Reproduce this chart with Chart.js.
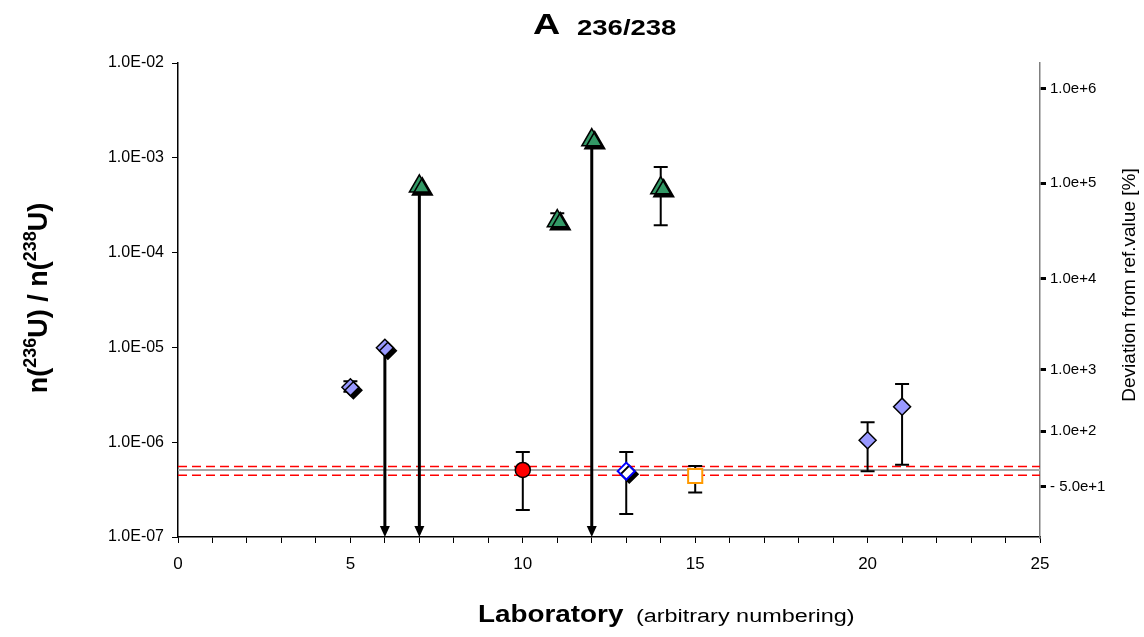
<!DOCTYPE html>
<html>
<head>
<meta charset="utf-8">
<script src="https://cdn.jsdelivr.net/npm/chart.js@4.4.0/dist/chart.umd.min.js"></script>
<style>
  html, body { margin: 0; padding: 0; background: #fff; }
  #wrap { width: 1144px; height: 637px; }
</style>
</head>
<body>
<div id="wrap"><canvas id="labChart" width="1144" height="637"></canvas></div>
<script>
// lab results, n(236U)/n(238U)
var labs = [5, 6, 7, 10, 11, 12, 13, 14, 15, 20, 21];
var ratios = [3.8e-6, 9.9e-6, 5.0e-4, 5.1e-7, 2.15e-4, 1.54e-3, 4.95e-7, 4.8e-4, 4.4e-7, 1.05e-6, 2.37e-6];
var errHigh = [4.4e-6, null, null, 7.9e-7, 2.6e-4, null, 7.9e-7, 8.0e-4, 5.6e-7, 1.62e-6, 4.1e-6];
var errLow = [3.4e-6, null, null, 1.93e-7, 2.0e-4, null, 1.75e-7, 1.94e-4, 2.95e-7, 4.95e-7, 5.8e-7];
var upperLimit = [false, true, true, false, false, true, false, false, false, false, false];
var markerGroup = ["lav", "lav", "tri", "red", "tri", "tri", "open", "tri", "sq", "lav2", "lav2"];

// reference value and its uncertainty band
var refValue = 5.09e-7;
var refUpper = 5.54e-7;
var refLower = 4.48e-7;

var leftTicks = [1e-7, 1e-6, 1e-5, 1e-4, 1e-3, 1e-2];
var rightTickValues = [5.32e-3, 5.42e-4, 5.27e-5, 5.78e-6, 1.31e-6, 3.37e-7];
var rightTickLabels = ["1.0e+6", "1.0e+5", "1.0e+4", "1.0e+3", "1.0e+2", "- 5.0e+1"];

var FONT = "'Liberation Sans', Arial, sans-serif";

var groupStyles = {
    lav:  { pointStyle: 'rectRot',  radius: 8.5,  bg: '#9999ff', border: '#000000', bw: 1.5, shadow: true },
    tri:  { pointStyle: 'triangle', radius: 11.5, bg: '#339966', border: '#000000', bw: 1.5, shadow: true },
    red:  { pointStyle: 'circle',   radius: 7.5,  bg: '#ff0000', border: '#000000', bw: 1.5, shadow: false },
    open: { pointStyle: 'rectRot',  radius: 8.5,  bg: '#ffffff', border: '#0000ff', bw: 2,   shadow: true },
    sq:   { pointStyle: 'rect',     radius: 10,   bg: '#ffffff', border: '#ff9900', bw: 2,   shadow: false },
    lav2: { pointStyle: 'rectRot',  radius: 8.5,  bg: '#9999ff', border: '#000000', bw: 1.5, shadow: false }
};

var datasets = Object.keys(groupStyles).map(function (key) {
    var st = groupStyles[key];
    var pts = [];
    labs.forEach(function (lab, i) {
        if (markerGroup[i] === key) pts.push({ x: lab, y: ratios[i] });
    });
    return {
        label: key,
        data: pts,
        showLine: false,
        pointStyle: st.pointStyle,
        pointRadius: st.radius,
        pointBackgroundColor: st.bg,
        pointBorderColor: st.border,
        pointBorderWidth: st.bw,
        shadow: st.shadow,
        clip: false
    };
});

function fmtLeft(v) {
    var e = Math.round(Math.log10(v));
    return '1.0E' + (e < 0 ? '-' : '+') + String(Math.abs(e)).padStart(2, '0');
}

// Excel-like drop shadow behind some markers
var shadowPlugin = {
    id: 'shadow',
    beforeDatasetDraw: function (chart, args) {
        var ctx = chart.ctx;
        ctx.save();
        if (args.meta._dataset.shadow) {
            ctx.shadowColor = '#000000';
            ctx.shadowOffsetX = 3;
            ctx.shadowOffsetY = 3;
            ctx.shadowBlur = 0;
        }
    },
    afterDatasetDraw: function (chart) {
        chart.ctx.restore();
    }
};

// reference lines, error bars and "below" arrows
var barsPlugin = {
    id: 'bars',
    beforeDatasetsDraw: function (chart) {
        var ctx = chart.ctx, xs = chart.scales.x, ys = chart.scales.y, area = chart.chartArea;
        ctx.save();

        // ref band
        ctx.lineWidth = 1.3;
        ctx.strokeStyle = '#ff0000';
        ctx.setLineDash([9, 5]);
        [refUpper, refLower].forEach(function (v) {
            var py = ys.getPixelForValue(v);
            ctx.beginPath(); ctx.moveTo(area.left, py); ctx.lineTo(area.right, py); ctx.stroke();
        });
        ctx.setLineDash([]);
        ctx.strokeStyle = '#a6a6a6';
        ctx.lineWidth = 2;
        var pr = ys.getPixelForValue(refValue);
        ctx.beginPath(); ctx.moveTo(area.left, pr); ctx.lineTo(area.right, pr); ctx.stroke();

        ctx.strokeStyle = '#000';
        ctx.fillStyle = '#000';
        labs.forEach(function (lab, i) {
            var px = xs.getPixelForValue(lab);
            if (upperLimit[i]) {
                var top = ys.getPixelForValue(ratios[i]);
                var bot = ys.getPixelForValue(ys.min);
                ctx.lineWidth = 3;
                ctx.beginPath(); ctx.moveTo(px, top); ctx.lineTo(px, bot - 8); ctx.stroke();
                ctx.beginPath();
                ctx.moveTo(px - 5, bot - 11); ctx.lineTo(px + 5, bot - 11); ctx.lineTo(px, bot);
                ctx.closePath(); ctx.fill();
            }
            if (errHigh[i] != null) {
                var hi = ys.getPixelForValue(errHigh[i]);
                var lo = ys.getPixelForValue(errLow[i]);
                ctx.lineWidth = 2;
                ctx.beginPath();
                ctx.moveTo(px, hi); ctx.lineTo(px, lo);
                ctx.moveTo(px - 7, hi); ctx.lineTo(px + 7, hi);
                ctx.moveTo(px - 7, lo); ctx.lineTo(px + 7, lo);
                ctx.stroke();
            }
        });
        ctx.restore();
    }
};

// draw text stretched horizontally (the reference is wide-set)
function wideText(ctx, txt, x, y, sx) {
    ctx.save();
    ctx.translate(x, y);
    ctx.scale(sx, 1);
    ctx.fillText(txt, 0, 0);
    ctx.restore();
    return ctx.measureText(txt).width * sx;
}

// titles (mixed sizes and superscripts)
var textPlugin = {
    id: 'texts',
    afterDraw: function (chart) {
        var ctx = chart.ctx;
        ctx.save();
        ctx.fillStyle = '#000';
        ctx.textBaseline = 'alphabetic';

        // main title
        ctx.font = 'bold 29px ' + FONT;
        wideText(ctx, 'A', 533, 34, 1.3);
        ctx.font = 'bold 22px ' + FONT;
        wideText(ctx, '236/238', 577, 35, 1.25);

        // x title
        ctx.font = 'bold 24px ' + FONT;
        wideText(ctx, 'Laboratory', 478, 622, 1.16);
        ctx.font = '18px ' + FONT;
        wideText(ctx, '(arbitrary numbering)', 636, 622, 1.3);

        // left y title with superscripts
        var parts = [
            ['n(', false], ['236', true], ['U) / n(', false], ['238', true], ['U)', false]
        ];
        var big = 'bold 27px ' + FONT, small = 'bold 18px ' + FONT;
        var total = 0;
        parts.forEach(function (p) { ctx.font = p[1] ? small : big; total += ctx.measureText(p[0]).width; });
        ctx.translate(47, 298);
        ctx.rotate(-Math.PI / 2);
        var cx = -total / 2;
        parts.forEach(function (p) {
            ctx.font = p[1] ? small : big;
            ctx.fillText(p[0], cx, p[1] ? -11 : 0);
            cx += ctx.measureText(p[0]).width;
        });
        ctx.setTransform(1, 0, 0, 1, 0, 0);

        // right y title
        ctx.translate(1135, 285);
        ctx.rotate(-Math.PI / 2);
        ctx.font = '19px ' + FONT;
        ctx.textAlign = 'center';
        ctx.fillText('Deviation from ref.value [%]', 0, 0);
        ctx.restore();
    }
};

(function () {
    var ctx = document.getElementById('labChart').getContext('2d');
    var labChart = new Chart(ctx, {
        type: 'scatter',
        data: { datasets: datasets },
        plugins: [shadowPlugin, barsPlugin, textPlugin],
        options: {
            responsive: false,
            animation: false,
            layout: { padding: { top: 63, left: 0, right: 0, bottom: 0 } },
            plugins: { legend: { display: false }, tooltip: { enabled: false } },
            scales: {
                x: {
                    type: 'linear', min: 0, max: 25,
                    ticks: {
                        stepSize: 1, autoSkip: false, maxRotation: 0, padding: 11,
                        color: '#000', font: { family: FONT, size: 17 },
                        callback: function (v) { return v % 5 === 0 ? String(v) : ''; }
                    },
                    grid: { drawOnChartArea: false, tickLength: 6, color: '#000', lineWidth: 1 },
                    border: { color: '#000', width: 1.5 },
                    afterFit: function (s) { s.height = 100; }
                },
                y: {
                    type: 'logarithmic', position: 'left', min: 1e-7, max: 1e-2,
                    afterBuildTicks: function (s) { s.ticks = leftTicks.map(function (v) { return { value: v }; }); },
                    ticks: {
                        padding: 8, color: '#000', font: { family: FONT, size: 16 },
                        callback: function (v) { return fmtLeft(v); }
                    },
                    grid: { drawOnChartArea: false, tickLength: 6, color: '#000', lineWidth: 1 },
                    border: { color: '#000', width: 1.5 },
                    afterFit: function (s) { s.width = 178; }
                },
                y2: {
                    type: 'logarithmic', position: 'right', min: 1e-7, max: 1e-2,
                    afterBuildTicks: function (s) { s.ticks = rightTickValues.map(function (v) { return { value: v }; }); },
                    ticks: {
                        padding: 4, color: '#000', font: { family: FONT, size: 15 },
                        callback: function (v, i) { return rightTickLabels[i]; }
                    },
                    grid: { drawOnChartArea: false, tickLength: 6, color: '#000', lineWidth: 3 },
                    border: { color: '#808080', width: 1.5 },
                    afterFit: function (s) { s.width = 104; }
                }
            }
        }
    });
})();
</script>
</body>
</html>
